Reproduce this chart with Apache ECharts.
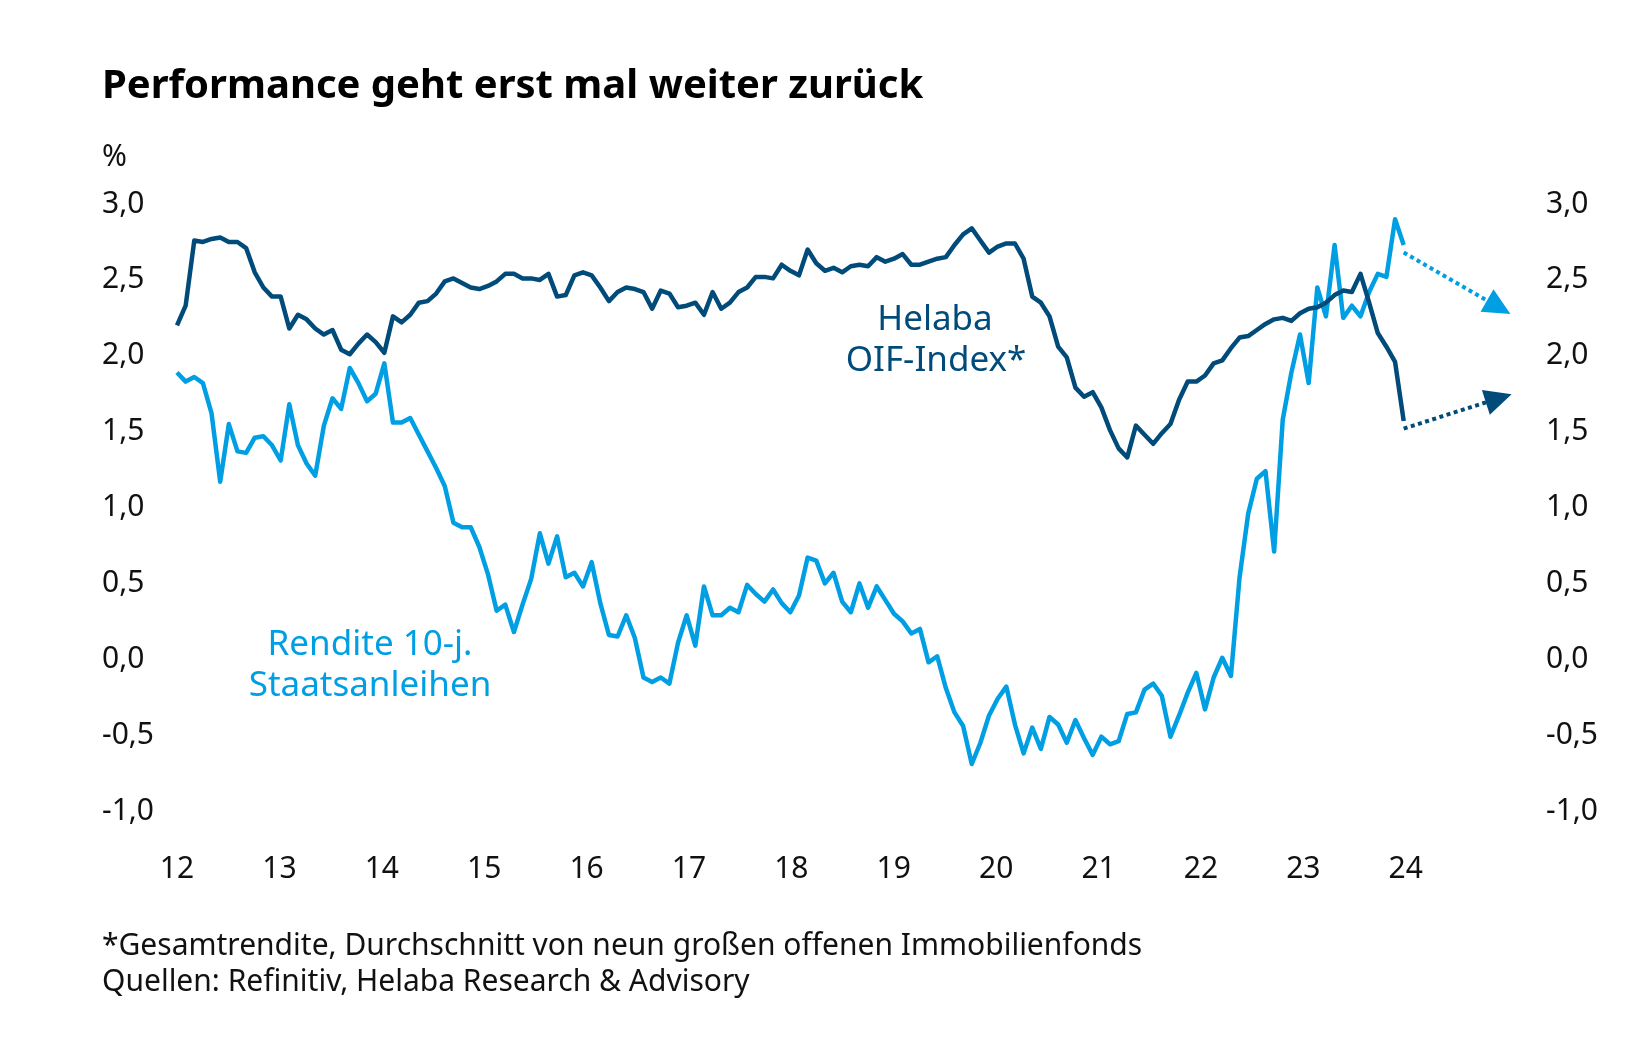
<!DOCTYPE html>
<html><head><meta charset="utf-8">
<script src="https://cdn.jsdelivr.net/npm/echarts@6/dist/echarts.min.js"></script>
<style>html,body{margin:0;padding:0;background:#fff}#c{width:1650px;height:1050px}</style>
</head><body><div id="c"></div>
<script>
// x tick labels (years)
const yearLabels = ['12','13','14','15','16','17','18','19','20','21','22','23','24'];

// Helaba OIF-Index* (%), monthly
const oif = [
2.18,2.31,2.74,2.73,2.75,2.76,2.73,2.73,2.69,2.53,2.43,2.37,
2.37,2.16,2.25,2.22,2.16,2.12,2.15,2.02,1.99,2.06,2.12,2.07,
2.00,2.24,2.20,2.25,2.33,2.34,2.39,2.47,2.49,2.46,2.43,2.42,
2.44,2.47,2.52,2.52,2.49,2.49,2.48,2.52,2.37,2.38,2.51,2.53,
2.51,2.43,2.34,2.40,2.43,2.42,2.40,2.29,2.41,2.39,2.30,2.31,
2.33,2.25,2.40,2.29,2.33,2.40,2.43,2.50,2.50,2.49,2.58,2.54,
2.51,2.68,2.59,2.54,2.56,2.53,2.57,2.58,2.57,2.63,2.60,2.62,
2.65,2.58,2.58,2.60,2.62,2.63,2.71,2.78,2.82,2.74,2.66,2.70,
2.72,2.72,2.62,2.37,2.33,2.24,2.04,1.97,1.77,1.71,1.74,1.64,
1.49,1.37,1.31,1.52,1.46,1.40,1.47,1.53,1.69,1.81,1.81,1.85,
1.93,1.95,2.03,2.10,2.11,2.15,2.19,2.22,2.23,2.21,2.26,2.29,
2.30,2.33,2.38,2.41,2.40,2.52,2.33,2.13,2.04,1.94,1.55];

// Rendite 10-j. Staatsanleihen (%), monthly
const rendite = [
1.87,1.81,1.84,1.80,1.60,1.15,1.53,1.35,1.34,1.44,1.45,1.39,
1.29,1.66,1.39,1.27,1.19,1.52,1.70,1.63,1.90,1.80,1.68,1.73,
1.93,1.54,1.54,1.57,1.46,1.35,1.24,1.12,0.88,0.85,0.85,0.72,
0.54,0.30,0.34,0.16,0.34,0.51,0.81,0.61,0.79,0.52,0.55,0.46,
0.62,0.35,0.14,0.13,0.27,0.12,-0.14,-0.17,-0.14,-0.18,0.09,0.27,
0.07,0.46,0.27,0.27,0.32,0.29,0.47,0.41,0.36,0.44,0.35,0.29,
0.40,0.65,0.63,0.48,0.55,0.36,0.29,0.48,0.32,0.46,0.37,0.28,
0.23,0.15,0.18,-0.04,0.00,-0.21,-0.37,-0.46,-0.71,-0.57,-0.39,-0.28,
-0.20,-0.45,-0.64,-0.47,-0.61,-0.40,-0.45,-0.57,-0.42,-0.54,-0.65,-0.53,
-0.58,-0.56,-0.38,-0.37,-0.22,-0.18,-0.26,-0.53,-0.39,-0.24,-0.11,-0.35,
-0.14,-0.01,-0.13,0.52,0.94,1.17,1.22,0.69,1.56,1.87,2.12,1.80,
2.43,2.24,2.71,2.23,2.31,2.24,2.40,2.52,2.50,2.88,2.71];

// forecast arrows (start/end month index and value)
const forecastIdx = [142, 153];
const oifForecast = [1.50, 1.70];
const renditeForecast = [2.66, 2.30];

const DARK = '#004b7a';
const LIGHT = '#009fe3';
const FONT = '"Noto Sans", sans-serif';
const TXT = '#111111';

const chart = echarts.init(document.getElementById('c'), null, {renderer: 'canvas'});

const fmtY = v => v.toFixed(1).replace('.', ',');

function arrow(vals, color) {
  return {
    silent: true, animation: false,
    symbol: ['none', 'triangle'], symbolSize: [26, 27],
    label: {show: false},
    lineStyle: {color: color, width: 4, type: [4, 3.5], opacity: 1},
    itemStyle: {color: color},
    emphasis: {disabled: true},
    data: [[{coord: [forecastIdx[0], vals[0]]}, {coord: [forecastIdx[1], vals[1]]}]]
  };
}

const yLabel = {fontSize: 30, fontFamily: FONT, color: TXT, formatter: fmtY, align: 'left', verticalAlign: 'top', lineHeight: 6};

const option = {
  animation: false,
  backgroundColor: '#ffffff',
  grid: {left: 177, right: 134, top: 201, bottom: 242, containLabel: false, outerBoundsMode: 'none'},
  xAxis: [
    {type: 'value', min: 0, max: 155, show: false},
    {type: 'value', min: 12, max: 25.077, interval: 1, position: 'bottom',
     axisLine: {show: false}, axisTick: {show: false}, splitLine: {show: false},
     axisLabel: {margin: 46, fontSize: 30, fontFamily: FONT, color: TXT,
       formatter: v => (Number.isInteger(v) && yearLabels[v - 12] !== undefined) ? yearLabels[v - 12] : '',
       showMaxLabel: false}}
  ],
  yAxis: [
    {type: 'value', min: -1, max: 3, interval: 0.5, position: 'left',
     axisLine: {show: false}, axisTick: {show: false}, splitLine: {show: false},
     axisLabel: Object.assign({margin: 75}, yLabel)},
    {type: 'value', min: -1, max: 3, interval: 0.5, position: 'right',
     axisLine: {show: false}, axisTick: {show: false}, splitLine: {show: false},
     axisLabel: Object.assign({margin: 30}, yLabel)}
  ],
  series: [
    {name: 'Rendite 10-j. Staatsanleihen', type: 'line', xAxisIndex: 0, yAxisIndex: 0,
     data: rendite.map((v, i) => [i, v]), showSymbol: false, symbol: 'none',
     lineStyle: {color: LIGHT, width: 4.5, join: 'round'}, z: 2,
     markLine: arrow(renditeForecast, LIGHT)},
    {name: 'Helaba OIF-Index*', type: 'line', xAxisIndex: 0, yAxisIndex: 0,
     data: oif.map((v, i) => [i, v]), showSymbol: false, symbol: 'none',
     lineStyle: {color: DARK, width: 4.5, join: 'round'}, z: 3,
     markLine: arrow(oifForecast, DARK)}
  ],
  graphic: [
    {type: 'text', x: 102, y: 87, style: {text: 'Performance geht erst mal weiter zurück', font: 'bold 40px ' + FONT, fill: '#000', align: 'left', verticalAlign: 'middle'}},
    {type: 'text', x: 102, y: 157, style: {text: '%', font: '30px ' + FONT, fill: TXT, align: 'left', verticalAlign: 'middle'}},
    {type: 'text', x: 935, y: 320, style: {text: 'Helaba', font: '35px ' + FONT, fill: DARK, align: 'center', verticalAlign: 'middle'}},
    {type: 'text', x: 936, y: 361, style: {text: 'OIF-Index*', font: '35px ' + FONT, fill: DARK, align: 'center', verticalAlign: 'middle'}},
    {type: 'text', x: 370, y: 645, style: {text: 'Rendite 10-j.', font: '35px ' + FONT, fill: LIGHT, align: 'center', verticalAlign: 'middle'}},
    {type: 'text', x: 370, y: 686, style: {text: 'Staatsanleihen', font: '35px ' + FONT, fill: LIGHT, align: 'center', verticalAlign: 'middle'}},
    {type: 'text', x: 102, y: 946, style: {text: '*Gesamtrendite, Durchschnitt von neun großen offenen Immobilienfonds', font: '30px ' + FONT, fill: TXT, align: 'left', verticalAlign: 'middle'}},
    {type: 'text', x: 102, y: 982, style: {text: 'Quellen: Refinitiv, Helaba Research & Advisory', font: '30px ' + FONT, fill: TXT, align: 'left', verticalAlign: 'middle'}}
  ]
};
chart.setOption(option);
</script>
</body></html>
